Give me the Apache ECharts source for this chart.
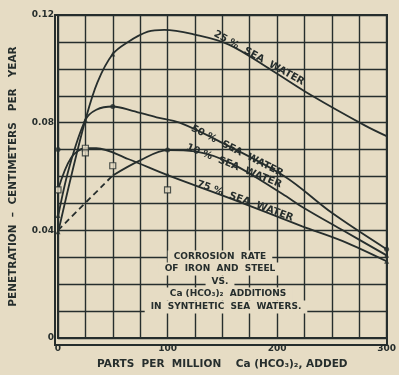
<!DOCTYPE html>
<html>
<head>
<meta charset="utf-8">
<script src="https://cdn.jsdelivr.net/npm/echarts@6/dist/echarts.min.js"></script>
<style>
  html, body { margin: 0; padding: 0; background: #e6dcc4; }
  #chart { width: 399px; height: 375px; }
</style>
</head>
<body>
<div id="chart"></div>
<script>
// curves: [ppm Ca(HCO3)2, penetration cm/yr]
const seaWater25 = [[0, 0.039], [12, 0.060], [25, 0.081], [36, 0.095], [50, 0.1055], [64, 0.110], [82, 0.1138],
  [97, 0.1145], [125, 0.1127], [156, 0.109], [195, 0.0995], [232, 0.090], [280, 0.079], [300, 0.075]];
const seaWater50 = [[0, 0.045], [10, 0.063], [25, 0.081], [35, 0.0848], [50, 0.086], [68, 0.0844], [90, 0.082],
  [111, 0.080], [150, 0.0725], [207, 0.060], [250, 0.0465], [300, 0.033]];
const seaWater10Dashed = [[0, 0.040], [50, 0.0604]];
const seaWater10 = [[50, 0.0604], [75, 0.066], [100, 0.0698], [125, 0.0693], [159, 0.0647], [205, 0.0535],
  [223, 0.0487], [260, 0.040], [300, 0.0307]];
const seaWater75 = [[0, 0.055], [12, 0.067], [25, 0.0705], [35, 0.0705], [64, 0.0665], [100, 0.0605],
  [159, 0.0516], [223, 0.0415], [260, 0.036], [300, 0.0285]];

const dotPoints = [[0, 0.070], [50, 0.086], [100, 0.0698], [300, 0.033]];
const squarePoints = [[0, 0.055], [25, 0.0705], [25, 0.0688], [50, 0.064], [100, 0.055]];
const tickPoints = [[0, 0.0395], [0, 0.0455], [25, 0.081], [50, 0.1055], [100, 0.0607], [300, 0.0307], [300, 0.0285]];

const xLabels = [0, 100, 200, 300];
const yLabels = ['0', '0.04', '0.08', '0.12'];

const INK = '#262e2d';
const PAPER = '#e6dcc4';
const FONT = 'DejaVu Sans';

const chart = echarts.init(document.getElementById('chart'), null, { renderer: 'canvas' });

function curve(data, dashed) {
  return {
    type: 'line',
    data: data,
    smooth: 0.35,
    symbol: 'none',
    clip: false,
    lineStyle: { color: INK, width: 1.8, type: dashed ? [6, 4] : 'solid' },
    z: 3
  };
}

function marks(data, symbol, size, filled) {
  return {
    type: 'scatter',
    data: data,
    symbol: symbol,
    symbolSize: size,
    clip: false,
    itemStyle: {
      color: filled ? INK : PAPER,
      borderColor: INK,
      borderWidth: filled ? 0 : 1.2
    },
    z: 4
  };
}

function curveLabel(text, x, y, deg) {
  return {
    type: 'text',
    x: x, y: y,
    rotation: -deg * Math.PI / 180,
    style: {
      text: text, fill: INK, font: 'bold 10px "' + FONT + '"',
      align: 'center', verticalAlign: 'middle'
    },
    z: 10
  };
}

function boxLine(text, x, y) {
  return {
    type: 'text',
    x: x, y: y,
    style: {
      text: text, fill: INK, font: 'bold 9px "' + FONT + '"',
      align: 'center', verticalAlign: 'middle',
      backgroundColor: PAPER, padding: [2, 6]
    },
    z: 10
  };
}

const option = {
  backgroundColor: PAPER,
  animation: false,
  grid: { left: 55, right: 12, top: 15, bottom: 30 },
  xAxis: {
    type: 'value',
    min: 0, max: 300, interval: 25,
    name: 'PARTS  PER  MILLION    Ca (HCO\u2083)\u2082, ADDED',
    nameLocation: 'middle',
    nameGap: 21,
    nameTextStyle: { color: INK, fontFamily: FONT, fontWeight: 'bold', fontSize: 10.5 },
    axisLine: { show: true, lineStyle: { color: INK, width: 2 } },
    axisTick: { show: false },
    splitLine: { show: true, lineStyle: { color: INK, width: 1.4 } },
    axisLabel: {
      color: INK, fontFamily: FONT, fontWeight: 'bold', fontSize: 9, margin: 6,
      formatter: v => (xLabels.indexOf(Math.round(v)) >= 0 ? String(Math.round(v)) : '')
    }
  },
  yAxis: {
    type: 'value',
    min: 0, max: 0.12, interval: 0.01,
    name: 'PENETRATION  \u2013  CENTIMETERS   PER   YEAR',
    nameLocation: 'middle',
    nameRotate: 90,
    nameGap: 39,
    nameTextStyle: { color: INK, fontFamily: FONT, fontWeight: 'bold', fontSize: 10.5 },
    axisLine: { show: true, lineStyle: { color: INK, width: 2 } },
    axisTick: { show: false },
    splitLine: { show: true, lineStyle: { color: INK, width: 1.4 } },
    axisLabel: {
      color: INK, fontFamily: FONT, fontWeight: 'bold', fontSize: 9, margin: 4,
      formatter: v => {
        const k = Math.round(v * 100);
        return k % 4 === 0 ? yLabels[k / 4] : '';
      }
    }
  },
  series: [
    curve(seaWater25),
    curve(seaWater50),
    curve(seaWater10Dashed, true),
    curve(seaWater10),
    curve(seaWater75),
    marks(dotPoints, 'circle', 5, true),
    marks(squarePoints, 'rect', 6, false),
    marks(tickPoints, 'triangle', 5, true)
  ],
  graphic: [
    { type: 'rect', shape: { x: 55, y: 15, width: 332, height: 330 },
      style: { fill: 'none', stroke: INK, lineWidth: 2 }, z: 5 },
    boxLine('CORROSION  RATE', 220, 257),
    boxLine('OF  IRON  AND  STEEL', 220, 269),
    boxLine('VS.', 220, 282),
    boxLine('Ca (HCO\u2083)\u2082  ADDITIONS', 228, 294),
    boxLine('IN  SYNTHETIC  SEA  WATERS.', 226, 307),
    curveLabel('25 %  SEA  WATER', 259, 58, 29),
    curveLabel('50 %  SEA  WATER', 237, 151, 27),
    curveLabel('10 %  SEA  WATER', 234, 166, 22),
    curveLabel('75 %  SEA  WATER', 245, 201, 20)
  ]
};

chart.setOption(option);
</script>
</body>
</html>
